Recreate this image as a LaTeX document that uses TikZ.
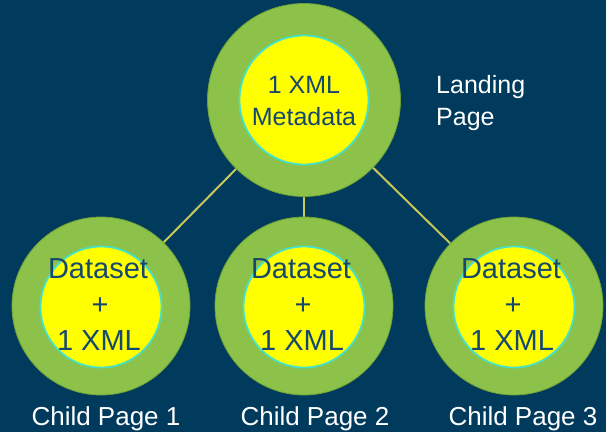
\documentclass[tikz,border=0pt]{standalone}
\usepackage{fontspec}
\setmainfont{Liberation Sans}
\definecolor{bgnavy}{RGB}{0,58,92}
\definecolor{ringgreen}{RGB}{140,194,74}
\definecolor{ringedge}{RGB}{110,160,55}
\definecolor{coreyellow}{RGB}{255,255,0}
\definecolor{coreedge}{RGB}{70,225,200}
\definecolor{txtblue}{RGB}{22,72,110}
\definecolor{linkcol}{RGB}{200,200,90}
\tikzset{
  ring/.style={circle, fill=ringgreen, draw=ringedge, line width=0.8pt, inner sep=0pt, minimum size=#1},
  core/.style={circle, fill=coreyellow, draw=coreedge, line width=1.8pt, inner sep=0pt, minimum size=#1},
  link/.style={draw=linkcol, line width=2pt},
  coretxt/.style={text=txtblue, anchor=base, inner sep=0pt, font=\fontsize{#1}{#1}\selectfont},
  pagelbl/.style={text=white, anchor=base, inner sep=0pt, font=\fontsize{26}{26}\selectfont},
}
\begin{document}
\begin{tikzpicture}[x=1pt,y=-1pt]
\fill[bgnavy] (0,0) rectangle (606,432);
\useasboundingbox (0,0) rectangle (606,432);
% centres
\coordinate (cT) at (304,100);
\coordinate (c1) at (101,306);
\coordinate (c2) at (304,306);
\coordinate (c3) at (514,306);
% links (behind circles)
\draw[link] (cT) -- (c1);
\draw[link] (cT) -- (c2);
\draw[link] (cT) -- (c3);
% top
\node[ring=193pt] (rT) at (cT) {};
\node[core=129pt] (kT) at (cT) {};
\node[coretxt=25] (tT1) at (304,93) {1 XML};
\node[coretxt=25] (tT2) at (304,125) {Metadata};
\node[text=white, anchor=base west, inner sep=0pt, font=\fontsize{25}{25}\selectfont] (land1) at (436,93) {Landing};
\node[text=white, anchor=base west, inner sep=0pt, font=\fontsize{25}{25}\selectfont] (land2) at (436,125) {Page};
% children
\foreach \n/\x/\lx in {1/101/106, 2/304/315, 3/514/523}{
  \node[ring=178pt] (r\n) at (\x,306) {};
  \node[core=121pt] (k\n) at (\x,307) {};
  \node[coretxt=29] (d\n) at (\x-3,278) {Dataset};
  \node[coretxt=29] (p\n) at (\x-1,314) {+};
  \node[coretxt=29] (x\n) at (\x-2,350) {1 XML};
  \node[pagelbl] (l\n) at (\lx,425) {Child Page \n};
}
\end{tikzpicture}
\end{document}
